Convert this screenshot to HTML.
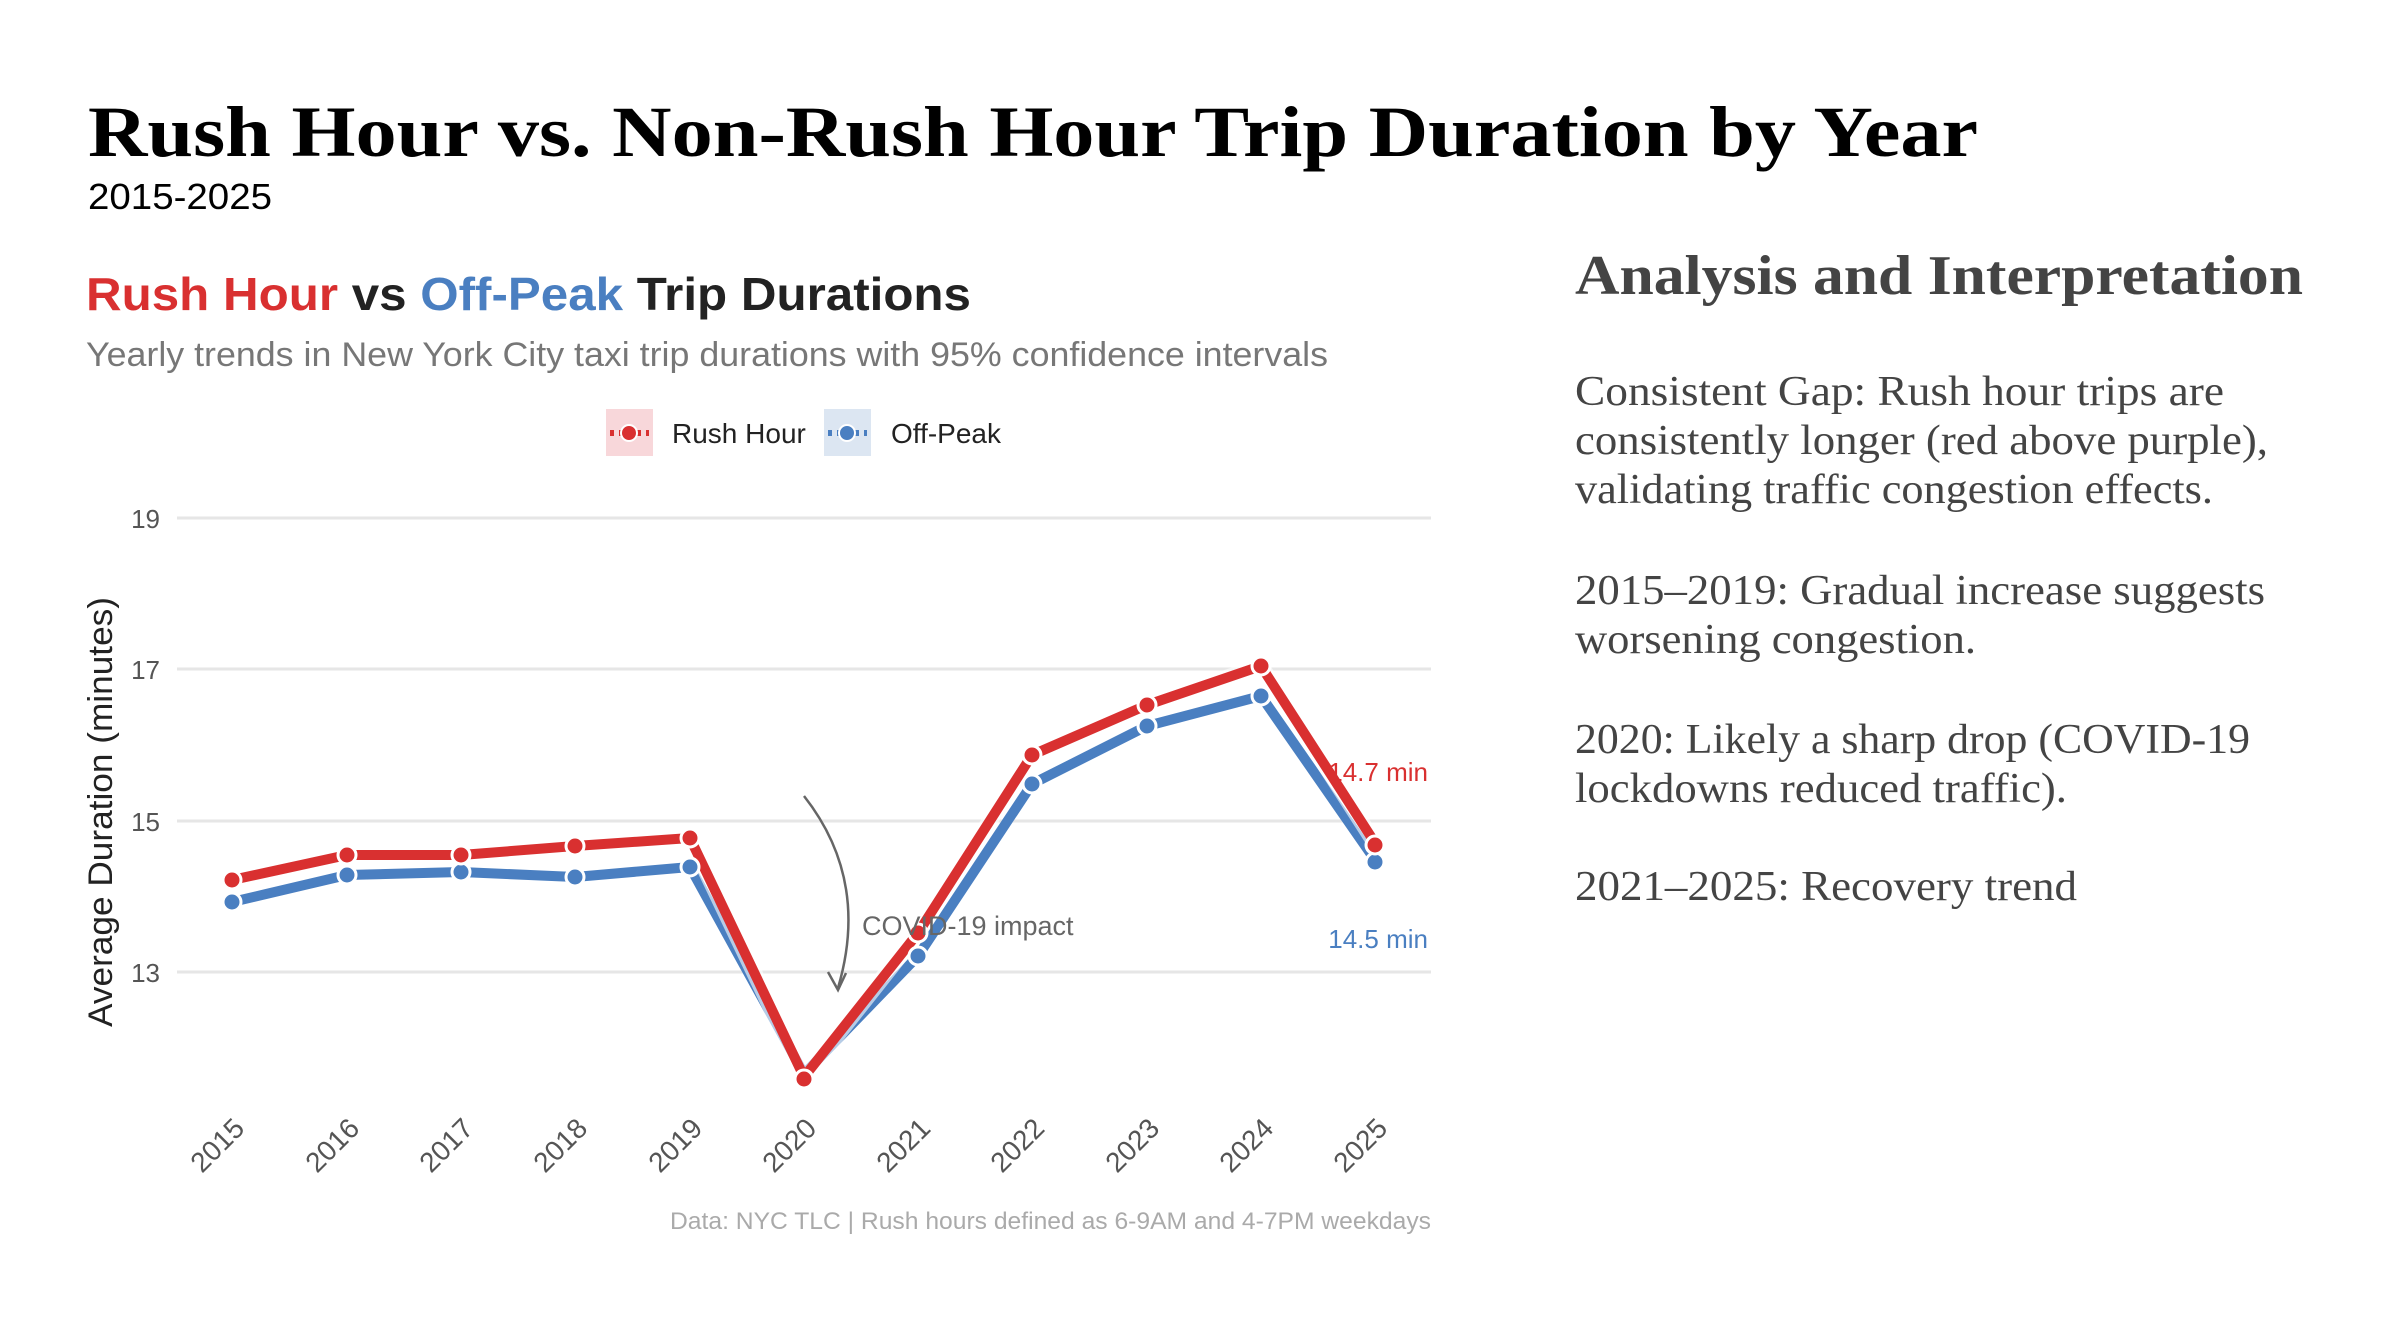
<!DOCTYPE html>
<html><head><meta charset="utf-8"><style>
html,body{margin:0;padding:0;background:#fff;}
body{width:2398px;height:1338px;overflow:hidden;position:relative;}
svg{position:absolute;left:0;top:0;}
</style></head><body>
<svg width="2398" height="1338" viewBox="0 0 2398 1338" xmlns="http://www.w3.org/2000/svg">
<text x="88" y="156" font-family="Liberation Serif, serif" font-weight="bold" font-size="72" fill="#000" textLength="1890" lengthAdjust="spacingAndGlyphs">Rush Hour vs. Non-Rush Hour Trip Duration by Year</text>
<text x="88" y="209" font-family="Liberation Sans, sans-serif" font-size="36" fill="#000" textLength="184" lengthAdjust="spacingAndGlyphs">2015-2025</text>
<text x="86" y="310" font-family="Liberation Sans, sans-serif" font-weight="bold" font-size="46" textLength="885" lengthAdjust="spacingAndGlyphs"><tspan fill="#d93030">Rush Hour</tspan><tspan fill="#222"> vs </tspan><tspan fill="#4a7fc1">Off-Peak</tspan><tspan fill="#222"> Trip Durations</tspan></text>
<text x="86" y="366" font-family="Liberation Sans, sans-serif" font-size="34" fill="#777" textLength="1242" lengthAdjust="spacingAndGlyphs">Yearly trends in New York City taxi trip durations with 95% confidence intervals</text>
<rect x="606" y="409" width="47" height="47" fill="#f8d7da"/>
<line x1="610" y1="433" x2="649" y2="433" stroke="#d93030" stroke-width="6" stroke-dasharray="4 5"/>
<circle cx="629" cy="433" r="8" fill="#d93030" stroke="#fff" stroke-width="2"/>
<text x="672" y="443" font-family="Liberation Sans, sans-serif" font-size="28" fill="#222">Rush Hour</text>
<rect x="824" y="409" width="47" height="47" fill="#dce6f2"/>
<line x1="828" y1="433" x2="867" y2="433" stroke="#4a7fc1" stroke-width="6" stroke-dasharray="4 5"/>
<circle cx="847" cy="433" r="8" fill="#4a7fc1" stroke="#fff" stroke-width="2"/>
<text x="891" y="443" font-family="Liberation Sans, sans-serif" font-size="28" fill="#222">Off-Peak</text>
<g stroke="#e6e6e6" stroke-width="3">
<line x1="177" y1="518" x2="1431" y2="518"/>
<line x1="177" y1="669" x2="1431" y2="669"/>
<line x1="177" y1="821" x2="1431" y2="821"/>
<line x1="177" y1="972" x2="1431" y2="972"/>
</g>
<g font-family="Liberation Sans, sans-serif" font-size="26" fill="#555" text-anchor="end">
<text x="160" y="528">19</text><text x="160" y="679">17</text><text x="160" y="831">15</text><text x="160" y="982">13</text>
</g>
<text transform="translate(112,812) rotate(-90)" text-anchor="middle" font-family="Liberation Sans, sans-serif" font-size="34" fill="#222" textLength="430" lengthAdjust="spacingAndGlyphs">Average Duration (minutes)</text>
<polyline fill="none" stroke="#4a7fc1" stroke-width="10" stroke-linejoin="round" points="232,902 347,875 461,872 575,877 690,867 804,1074 918,956 1032,784 1147,726 1261,696 1375,860"/>
<polyline fill="none" stroke="#fff" stroke-width="16" stroke-linejoin="round" points="232,880 347,855 461,855 575,846 690,838 804,1077 918,933 1032,755 1147,705 1261,666 1375,843" stroke-opacity="0.6"/>
<polyline fill="none" stroke="#d93030" stroke-width="10" stroke-linejoin="round" points="232,880 347,855 461,855 575,846 690,838 804,1077 918,933 1032,755 1147,705 1261,666 1375,843"/>
<g fill="#4a7fc1" stroke="#fff" stroke-width="3">
<circle cx="232" cy="902" r="9"/><circle cx="347" cy="875" r="9"/><circle cx="461" cy="872" r="9"/><circle cx="575" cy="877" r="9"/><circle cx="690" cy="867" r="9"/><circle cx="918" cy="956" r="9"/><circle cx="1032" cy="784" r="9"/><circle cx="1147" cy="726" r="9"/><circle cx="1261" cy="696" r="9"/><circle cx="1375" cy="862" r="9"/>
</g>
<g fill="#d93030" stroke="#fff" stroke-width="3">
<circle cx="232" cy="880" r="9"/><circle cx="347" cy="855" r="9"/><circle cx="461" cy="855" r="9"/><circle cx="575" cy="846" r="9"/><circle cx="690" cy="838" r="9"/><circle cx="804" cy="1079" r="9"/><circle cx="918" cy="933" r="9"/><circle cx="1032" cy="755" r="9"/><circle cx="1147" cy="705" r="9"/><circle cx="1261" cy="666" r="9"/><circle cx="1375" cy="845" r="9"/>
</g>
<path d="M804,796 Q870,880 838,988" fill="none" stroke="#666" stroke-width="2.5"/>
<path d="M828,972 L838,990 L846,973" fill="none" stroke="#666" stroke-width="2.5"/>
<text x="862" y="935" font-family="Liberation Sans, sans-serif" font-size="27" fill="#666">COVID-19 impact</text>
<text x="1428" y="781" text-anchor="end" font-family="Liberation Sans, sans-serif" font-size="26" fill="#d93030">14.7 min</text>
<text x="1428" y="948" text-anchor="end" font-family="Liberation Sans, sans-serif" font-size="26" fill="#4a7fc1">14.5 min</text>
<g font-family="Liberation Sans, sans-serif" font-size="28" fill="#555" text-anchor="end">
<text transform="translate(246,1130) rotate(-45)">2015</text>
<text transform="translate(361,1130) rotate(-45)">2016</text>
<text transform="translate(475,1130) rotate(-45)">2017</text>
<text transform="translate(589,1130) rotate(-45)">2018</text>
<text transform="translate(704,1130) rotate(-45)">2019</text>
<text transform="translate(818,1130) rotate(-45)">2020</text>
<text transform="translate(932,1130) rotate(-45)">2021</text>
<text transform="translate(1046,1130) rotate(-45)">2022</text>
<text transform="translate(1161,1130) rotate(-45)">2023</text>
<text transform="translate(1275,1130) rotate(-45)">2024</text>
<text transform="translate(1389,1130) rotate(-45)">2025</text>
</g>
<text x="670" y="1229" font-family="Liberation Sans, sans-serif" font-size="24" fill="#aaa" textLength="761" lengthAdjust="spacingAndGlyphs">Data: NYC TLC | Rush hours defined as 6-9AM and 4-7PM weekdays</text>
<text x="1575" y="294" font-family="Liberation Serif, serif" font-weight="bold" font-size="56" fill="#444" textLength="728" lengthAdjust="spacingAndGlyphs">Analysis and Interpretation</text>
<g font-family="Liberation Serif, serif" font-size="42" fill="#444">
<text x="1575" y="405" textLength="649" lengthAdjust="spacingAndGlyphs">Consistent Gap: Rush hour trips are</text>
<text x="1575" y="454" textLength="693" lengthAdjust="spacingAndGlyphs">consistently longer (red above purple),</text>
<text x="1575" y="503" textLength="638" lengthAdjust="spacingAndGlyphs">validating traffic congestion effects.</text>
<text x="1575" y="604" textLength="690" lengthAdjust="spacingAndGlyphs">2015–2019: Gradual increase suggests</text>
<text x="1575" y="653" textLength="401" lengthAdjust="spacingAndGlyphs">worsening congestion.</text>
<text x="1575" y="753" textLength="675" lengthAdjust="spacingAndGlyphs">2020: Likely a sharp drop (COVID-19</text>
<text x="1575" y="802" textLength="492" lengthAdjust="spacingAndGlyphs">lockdowns reduced traffic).</text>
<text x="1575" y="900" textLength="502" lengthAdjust="spacingAndGlyphs">2021–2025: Recovery trend</text>
</g>
</svg>
</body></html>
